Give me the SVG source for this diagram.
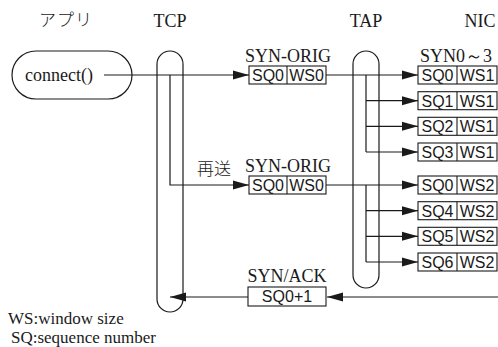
<svg xmlns="http://www.w3.org/2000/svg" width="498" height="347" viewBox="0 0 498 347">
  <style>
    .bg { fill: #ffffff; }
    .pill { fill: none; stroke: #1a1a1a; stroke-width: 1.2; }
    .box { fill: #ffffff; stroke: #1a1a1a; stroke-width: 1.1; }
    .div { stroke: #1a1a1a; stroke-width: 1.1; }
    .wire { fill: none; stroke: #1a1a1a; stroke-width: 1.2; }
    .serif { font-family: "Liberation Serif", "Times New Roman", serif; font-size: 18px; fill: #1a1a1a; }
    .legend { font-family: "Liberation Serif", "Times New Roman", serif; font-size: 17px; fill: #1a1a1a; }
    .jp { font-family: "Noto Sans CJK JP", "Noto Sans CJK SC", sans-serif; font-size: 17px; font-weight: 300; fill: #1a1a1a; }
    .cell { font-family: "Liberation Sans", Arial, sans-serif; font-size: 16px; fill: #1a1a1a; text-anchor: middle; }
    .mid { text-anchor: middle; }
  </style>
  <defs>
    <marker id="ah" markerWidth="16" markerHeight="10" refX="16" refY="5" orient="auto" markerUnits="userSpaceOnUse">
      <path d="M0,0.5 L16,5 L0,9.5 z" fill="#1a1a1a"/>
    </marker>
  </defs>

  <rect class="bg" x="0" y="0" width="498" height="347"/>

  <!-- column headers -->
  <g id="headers">
    <text class="jp" x="39" y="26" letter-spacing="1">アプリ</text>
    <text class="serif mid" x="170" y="27">TCP</text>
    <text class="serif mid" x="366" y="27">TAP</text>
    <text class="serif mid" x="480" y="27">NIC</text>
  </g>

  <!-- lifeline pills -->
  <g id="app">
    <rect class="pill" x="12" y="51" width="120" height="48" rx="24" ry="24"/>
    <text class="serif" x="25" y="81">connect()</text>
  </g>
  <g id="tcp">
    <rect class="pill" x="157" y="51" width="26" height="261" rx="13" ry="13"/>
  </g>
  <g id="tap">
    <rect class="pill" x="353" y="51" width="26" height="237" rx="13" ry="13"/>
  </g>

  <!-- connectors -->
  <g id="connectors">
    <!-- connect() to first SYN -->
    <line class="wire" x1="104" y1="75" x2="249" y2="75" marker-end="url(#ah)"/>
    <!-- TCP retransmission -->
    <polyline class="wire" points="170,75 170,185 249,185" marker-end="url(#ah)"/>
    <!-- first SYN through TAP -->
    <line class="wire" x1="326" y1="75" x2="418" y2="75" marker-end="url(#ah)"/>
    <line class="wire" x1="366" y1="75" x2="366" y2="152"/>
    <line class="wire" x1="366" y1="100.7" x2="418" y2="100.7" marker-end="url(#ah)"/>
    <line class="wire" x1="366" y1="126.3" x2="418" y2="126.3" marker-end="url(#ah)"/>
    <line class="wire" x1="366" y1="152" x2="418" y2="152" marker-end="url(#ah)"/>
    <!-- retransmitted SYN through TAP -->
    <line class="wire" x1="326" y1="185" x2="418" y2="185" marker-end="url(#ah)"/>
    <line class="wire" x1="366" y1="185" x2="366" y2="262"/>
    <line class="wire" x1="366" y1="210.7" x2="418" y2="210.7" marker-end="url(#ah)"/>
    <line class="wire" x1="366" y1="236.3" x2="418" y2="236.3" marker-end="url(#ah)"/>
    <line class="wire" x1="366" y1="262" x2="418" y2="262" marker-end="url(#ah)"/>
    <!-- SYN/ACK back to TCP -->
    <line class="wire" x1="498" y1="297" x2="327" y2="297" marker-end="url(#ah)"/>
    <line class="wire" x1="248" y1="297" x2="170" y2="297" marker-end="url(#ah)"/>
  </g>

  <!-- SYN-ORIG packet -->
  <g id="syn-orig-1">
    <text class="serif mid" x="288" y="62">SYN-ORIG</text>
    <rect class="box" x="249" y="66" width="77" height="18"/>
    <line class="div" x1="287" y1="66" x2="287" y2="84"/>
    <text class="cell" x="268" y="81">SQ0</text>
    <text class="cell" x="306.5" y="81">WS0</text>
  </g>

  <!-- retransmitted SYN-ORIG packet -->
  <g id="syn-orig-2">
    <text class="jp" x="197" y="175">再送</text>
    <text class="serif mid" x="288" y="172">SYN-ORIG</text>
    <rect class="box" x="249" y="176" width="77" height="18"/>
    <line class="div" x1="287" y1="176" x2="287" y2="194"/>
    <text class="cell" x="268" y="191">SQ0</text>
    <text class="cell" x="306.5" y="191">WS0</text>
  </g>

  <!-- SYN/ACK packet -->
  <g id="syn-ack">
    <text class="serif mid" x="287" y="282">SYN/ACK</text>
    <rect class="box" x="248" y="287" width="78" height="19"/>
    <text class="cell" x="287" y="302">SQ0+1</text>
  </g>

  <!-- packets at the NIC -->
  <g id="nic-label">
    <text class="serif" x="420" y="62">SYN0～3</text>
  </g>
  <g id="nic-sq0-ws1">
    <rect class="box" x="418" y="66" width="79" height="18"/>
    <line class="div" x1="457" y1="66" x2="457" y2="84"/>
    <text class="cell" x="437.5" y="81">SQ0</text>
    <text class="cell" x="477" y="81">WS1</text>
  </g>
  <g id="nic-sq1-ws1">
    <rect class="box" x="418" y="91.7" width="79" height="18"/>
    <line class="div" x1="457" y1="91.7" x2="457" y2="109.7"/>
    <text class="cell" x="437.5" y="106.7">SQ1</text>
    <text class="cell" x="477" y="106.7">WS1</text>
  </g>
  <g id="nic-sq2-ws1">
    <rect class="box" x="418" y="117.3" width="79" height="18"/>
    <line class="div" x1="457" y1="117.3" x2="457" y2="135.3"/>
    <text class="cell" x="437.5" y="132.3">SQ2</text>
    <text class="cell" x="477" y="132.3">WS1</text>
  </g>
  <g id="nic-sq3-ws1">
    <rect class="box" x="418" y="143" width="79" height="18"/>
    <line class="div" x1="457" y1="143" x2="457" y2="161"/>
    <text class="cell" x="437.5" y="158">SQ3</text>
    <text class="cell" x="477" y="158">WS1</text>
  </g>
  <g id="nic-sq0-ws2">
    <rect class="box" x="418" y="176" width="79" height="18"/>
    <line class="div" x1="457" y1="176" x2="457" y2="194"/>
    <text class="cell" x="437.5" y="191">SQ0</text>
    <text class="cell" x="477" y="191">WS2</text>
  </g>
  <g id="nic-sq4-ws2">
    <rect class="box" x="418" y="201.7" width="79" height="18"/>
    <line class="div" x1="457" y1="201.7" x2="457" y2="219.7"/>
    <text class="cell" x="437.5" y="216.7">SQ4</text>
    <text class="cell" x="477" y="216.7">WS2</text>
  </g>
  <g id="nic-sq5-ws2">
    <rect class="box" x="418" y="227.3" width="79" height="18"/>
    <line class="div" x1="457" y1="227.3" x2="457" y2="245.3"/>
    <text class="cell" x="437.5" y="242.3">SQ5</text>
    <text class="cell" x="477" y="242.3">WS2</text>
  </g>
  <g id="nic-sq6-ws2">
    <rect class="box" x="418" y="253" width="79" height="18"/>
    <line class="div" x1="457" y1="253" x2="457" y2="271"/>
    <text class="cell" x="437.5" y="268">SQ6</text>
    <text class="cell" x="477" y="268">WS2</text>
  </g>

  <!-- legend -->
  <g id="legend">
    <text class="legend" x="8" y="324">WS:window size</text>
    <text class="legend" x="11" y="343">SQ:sequence number</text>
  </g>
</svg>
